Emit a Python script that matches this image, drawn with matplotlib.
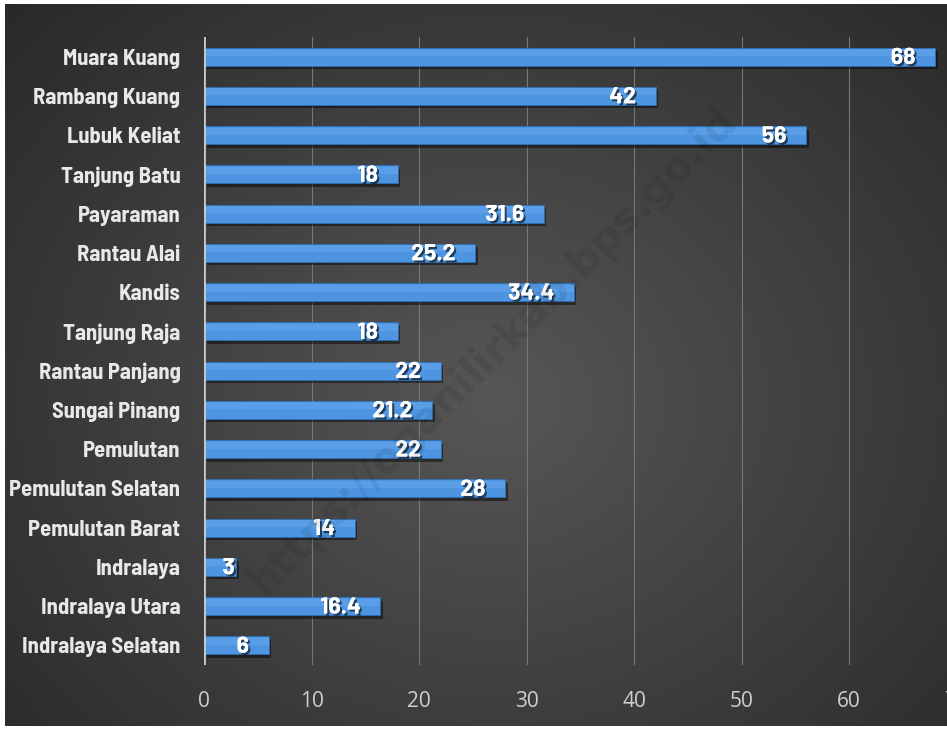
import numpy as np
import matplotlib.pyplot as plt
import matplotlib.patheffects as pe
from matplotlib import font_manager

kecamatan = ["Muara Kuang", "Rambang Kuang", "Lubuk Keliat", "Tanjung Batu",
             "Payaraman", "Rantau Alai", "Kandis", "Tanjung Raja",
             "Rantau Panjang", "Sungai Pinang", "Pemulutan", "Pemulutan Selatan",
             "Pemulutan Barat", "Indralaya", "Indralaya Utara", "Indralaya Selatan"]
nilai = [68, 42, 56, 18, 31.6, 25.2, 34.4, 18, 22, 21.2, 22, 28, 14, 3, 16.4, 6]
label_nilai = ["68", "42", "56", "18", "31.6", "25.2", "34.4", "18", "22", "21.2",
               "22", "28", "14", "3", "16.4", "6"]
xticks = [0, 10, 20, 30, 40, 50, 60, 70]

names = {f.name for f in font_manager.fontManager.ttflist}
narrow = next((n for n in ["Barlow Semi Condensed", "Barlow Condensed", "Asap Condensed",
                           "Liberation Sans Narrow"] if n in names), "DejaVu Sans")
valfont = "Barlow" if "Barlow" in names else narrow
tickfont = "Open Sans" if "Open Sans" in names else "DejaVu Sans"

W, H = 947, 731
fig = plt.figure(figsize=(W / 100, H / 100), dpi=100)
fig.patch.set_facecolor("white")

# dark radial background (chart area inside thin white border)
bg = fig.add_axes([5 / W, 5 / H, (W - 5) / W, (H - 9) / H])
yy, xx = np.mgrid[0:1:300j, 0:1:400j]
r = np.sqrt(((xx - 0.52) / 0.75) ** 2 + ((yy - 0.55) / 0.85) ** 2)
shade = np.clip(0.34 - 0.19 * r, 0.15, 0.36)
bg.imshow(np.dstack([shade, shade, shade]), aspect="auto", extent=[0, 1, 0, 1])
bg.set_axis_off()

x0, x60 = 204, 849
px_per = (x60 - x0) / 60
left = x0 / W
width = 70 * px_per / W
top, bottom = 37, 665
ax = fig.add_axes([left, 1 - bottom / H, width, (bottom - top) / H])
ax.patch.set_alpha(0)

ypos = np.arange(len(kecamatan))
# shadows
ax.barh(ypos + 0.09, nilai, height=0.46, left=0.25, color="black", alpha=0.45, zorder=2)
ax.barh(ypos, nilai, height=0.46, color="#4d95e0", edgecolor="#2f6fb5", linewidth=0.6, zorder=3)
ax.barh(ypos - 0.1, nilai, height=0.18, color="#6aaaf0", alpha=0.45, zorder=3, linewidth=0)

ax.set_ylim(len(kecamatan) - 0.5, -0.5)
ax.set_xlim(0, 70)
ax.set_yticks(ypos)
ax.set_yticklabels(kecamatan, fontsize=16.3, fontweight="bold", family=narrow,
                   color="#e8e8e8")
ax.set_xticks(xticks)
ax.set_xticklabels([str(t) for t in xticks], fontsize=15, color="#cfcfcf", family=tickfont)
ax.tick_params(axis="both", length=0)
ax.tick_params(axis="x", pad=19)
ax.tick_params(axis="y", pad=17)
for s in ax.spines.values():
    s.set_visible(False)
ax.grid(axis="x", color="#777777", linewidth=0.8, zorder=1)
ax.axvline(0, color="#c8c8c8", linewidth=2, zorder=4)

shadow = [pe.withSimplePatchShadow(offset=(1.5, -1.5), shadow_rgbFace="black", alpha=0.6), pe.Normal()]
for y, v, t in zip(ypos, nilai, label_nilai):
    off = -14 if v > 5 else -1
    ax.annotate(t, (v, y), xytext=(off, -1), textcoords="offset points",
                ha="right", va="center", fontsize=16.5, fontweight="bold",
                family=valfont, color="white", zorder=5, path_effects=shadow)

fig.text(0.52, 0.52, "https://oganilirkab.bps.go.id", rotation=45, ha="center", va="center",
         fontsize=30, fontweight="bold", color="#000000", alpha=0.08)

fig.savefig("out.png", dpi=100, facecolor=fig.get_facecolor())
